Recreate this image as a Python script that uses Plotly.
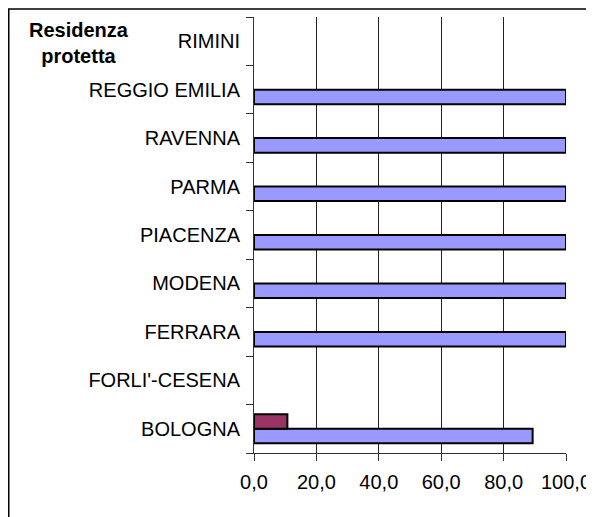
import plotly.graph_objects as go

# categories, bottom to top as in the chart
PROVINCE = ["BOLOGNA", "FORLI'-CESENA", "FERRARA", "MODENA", "PIACENZA",
            "PARMA", "RAVENNA", "REGGIO EMILIA", "RIMINI"]

# two series (percentages)
SERIE_A = [89.3, None, 100.0, 100.0, 100.0, 100.0, 100.0, 100.0, None]
SERIE_B = [10.7, None, None, None, None, None, None, None, None]

TITOLO = "Residenza<br>protetta"

FONT = "Arial, Liberation Sans, sans-serif"

fig = go.Figure()
# first trace sits lower in each group, so lavender goes first
fig.add_trace(go.Bar(y=PROVINCE, x=SERIE_A, orientation="h",
                     marker=dict(color="#9999FF", line=dict(color="black", width=2))))
fig.add_trace(go.Bar(y=PROVINCE, x=SERIE_B, orientation="h",
                     marker=dict(color="#993366", line=dict(color="black", width=2))))

# the page body has an 8px margin, so the figure is a bit smaller than the window
fig.update_layout(
    width=586, height=509,
    margin=dict(l=246, r=28, t=9, b=64),
    barmode="group", bargap=0.4, bargroupgap=0,
    showlegend=False,
    plot_bgcolor="white", paper_bgcolor="white",
    separators=",.",
    font=dict(family=FONT, size=20, color="black"),
)

fig.update_xaxes(range=[0, 100], dtick=20, tick0=0, tickformat=".1f",
                 showgrid=True, gridcolor="#222", gridwidth=1,
                 showline=True, linecolor="#333", linewidth=1,
                 ticks="outside", ticklen=7, tickcolor="#333",
                 zeroline=False, fixedrange=True, automargin=False,
                 ticklabelstandoff=4)
fig.update_yaxes(type="category", categoryorder="array", categoryarray=PROVINCE,
                 showgrid=False, showline=True, linecolor="#333", linewidth=1,
                 ticks="outside", ticklen=7, tickcolor="#333",
                 tickson="boundaries", ticklabelstandoff=9, fixedrange=True,
                 automargin=False)

# title in the top-left corner
fig.add_annotation(text="<b>" + TITOLO + "</b>", xref="paper", yref="paper",
                   x=-0.56, y=1.0, xanchor="center", yanchor="top",
                   showarrow=False, align="center",
                   font=dict(family=FONT, size=20, color="black"))

# outer frame of the chart area
fig.add_shape(type="rect", xref="paper", yref="paper",
              x0=-0.786, x1=1.0833, y0=-0.16, y1=1.0183,
              line=dict(color="black", width=1.5), layer="below")

fig.write_html("out.html")
